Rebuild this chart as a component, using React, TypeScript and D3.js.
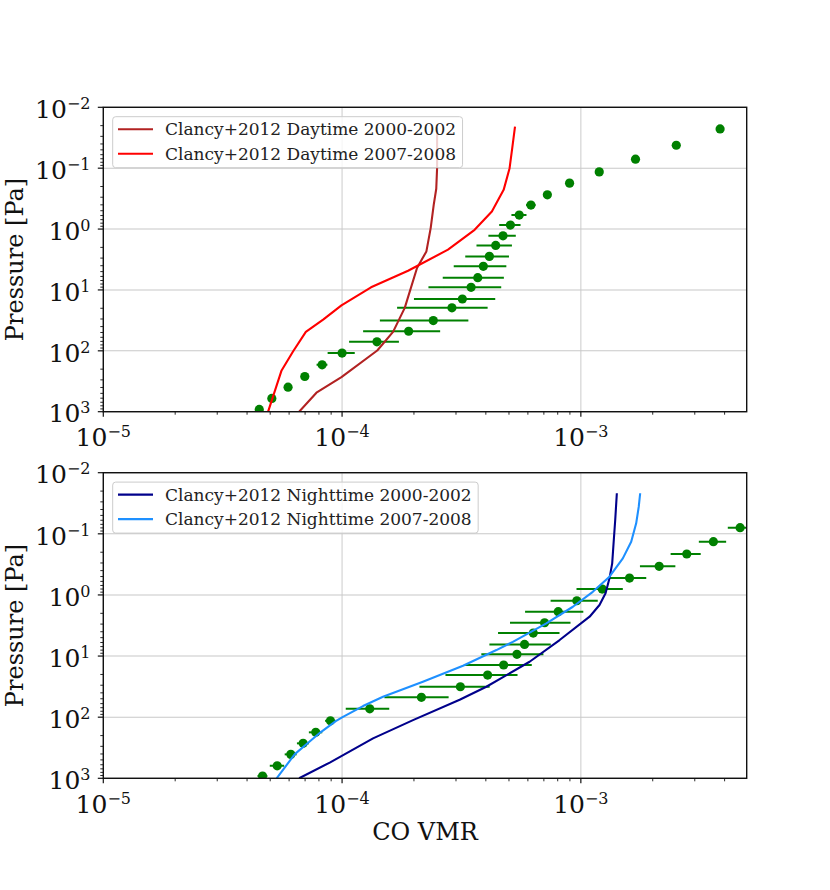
import React, { useEffect, useRef } from 'react';
import * as d3 from 'd3';

// daytime observations (green points with horizontal error bars)
const dayObsPressure = [916, 605, 395, 264, 170, 109, 71.2, 47.7, 31.9, 19.7, 14.1, 9.06, 6.29, 4.1, 2.81, 1.86, 1.29, 0.859, 0.589, 0.404, 0.274, 0.176, 0.115, 0.0712, 0.042, 0.0227];
const dayObsVmr = [4.5e-5, 5.08e-5, 5.94e-5, 6.98e-5, 8.25e-5, 1.0e-4, 1.4e-4, 1.9e-4, 2.41e-4, 2.885e-4, 3.19e-4, 3.47e-4, 3.7e-4, 3.905e-4, 4.14e-4, 4.4e-4, 4.72e-4, 5.07e-4, 5.52e-4, 6.18e-4, 7.24e-4, 8.97e-4, 1.194e-3, 1.694e-3, 2.51e-3, 3.83e-3];
const dayObsErr = [0.1e-5, 0.15e-5, 0.2e-5, 0.25e-5, 0.43e-5, 0.13e-4, 0.33e-4, 0.675e-4, 0.97e-4, 1.185e-4, 1.19e-4, 1.17e-4, 1.06e-4, 0.97e-4, 0.86e-4, 0.745e-4, 0.62e-4, 0.52e-4, 0.4e-4, 0.28e-4, 0, 0, 0, 0, 0, 0];

// Clancy+2012 daytime profiles
const clancyDay0002Pressure = [1000, 488, 271, 98.9, 48.8, 19.7, 4.36, 2.33, 0.964, 0.4, 0.218, 0.1, 0.0221];
const clancyDay0002Vmr = [6.61e-5, 7.81e-5, 9.94e-5, 1.404e-4, 1.635e-4, 1.83e-4, 2.06e-4, 2.255e-4, 2.35e-4, 2.42e-4, 2.48e-4, 2.5e-4, 2.5e-4];
const clancyDay0708Pressure = [1000, 210, 101.6, 48.8, 30.7, 17.9, 9.06, 4.83, 2.18, 1.03, 0.514, 0.227, 0.1, 0.047, 0.0208];
const clancyDay0708Vmr = [4.9e-5, 5.58e-5, 6.24e-5, 7.05e-5, 8.33e-5, 9.94e-5, 1.322e-4, 1.89e-4, 2.777e-4, 3.59e-4, 4.24e-4, 4.75e-4, 5.03e-4, 5.16e-4, 5.3e-4];

// nighttime observations
const nightObsPressure = [920, 624, 406, 268, 177, 114.6, 72.9, 47.4, 31.8, 20.5, 14.0, 9.38, 6.44, 4.2, 2.85, 1.88, 1.245, 0.801, 0.529, 0.34, 0.214, 0.1346, 0.0794];
const nightObsVmr = [4.645e-5, 5.35e-5, 6.1e-5, 6.87e-5, 7.76e-5, 8.94e-5, 1.306e-4, 2.149e-4, 3.129e-4, 4.07e-4, 4.75e-4, 5.4e-4, 5.81e-4, 6.32e-4, 7.05e-4, 8.04e-4, 9.62e-4, 1.229e-3, 1.599e-3, 2.128e-3, 2.777e-3, 3.59e-3, 4.645e-3];
const nightObsErr = [0.22e-5, 0.37e-5, 0.35e-5, 0.4e-5, 0.5e-5, 0.45e-5, 0.27e-4, 0.645e-4, 1.02e-4, 1.36e-4, 1.48e-4, 1.57e-4, 1.67e-4, 1.82e-4, 2.0e-4, 2.2e-4, 2.15e-4, 2.7e-4, 2.8e-4, 3.6e-4, 4.0e-4, 4.7e-4, 5.2e-4];

// Clancy+2012 nighttime profiles
const clancyNight0002Pressure = [1000, 553, 222, 111.6, 51.9, 31.8, 12.4, 5.47, 2.27, 1.46, 0.942, 0.535, 0.304, 0.1263, 0.0594, 0.0217];
const clancyNight0002Vmr = [6.61e-5, 8.88e-5, 1.348e-4, 1.982e-4, 3.108e-4, 4.02e-4, 6.1e-4, 8.15e-4, 1.088e-3, 1.197e-3, 1.269e-3, 1.318e-3, 1.353e-3, 1.374e-3, 1.393e-3, 1.415e-3];
const clancyNight0708Pressure = [1000, 402, 265, 175, 116, 100.7, 65.8, 46.4, 26.3, 14.4, 7.98, 5.86, 2.92, 1.56, 0.888, 0.503, 0.252, 0.1346, 0.0673, 0.036, 0.0217];
const clancyNight0708Vmr = [5.32e-5, 6.34e-5, 7.19e-5, 8.15e-5, 9.41e-5, 1.0e-4, 1.224e-4, 1.484e-4, 2.18e-4, 3.21e-4, 4.43e-4, 5.19e-4, 7.17e-4, 9.26e-4, 1.122e-3, 1.318e-3, 1.499e-3, 1.625e-3, 1.705e-3, 1.748e-3, 1.772e-3];

const xDomain = [1e-5, 4.95e-3];
const pDomain = [1e-2, 1e3];

const FONT = '"DejaVu Serif", serif';
const W = 830;
const H = 890;
const LEFT = 103.3;
const RIGHT = 746.7;

const isDecade = (v: number) => Math.abs(Math.log10(v) - Math.round(Math.log10(v))) < 1e-6;

const supText = (v: number) => {
  const e = Math.round(Math.log10(v));
  return e < 0 ? `\u2212${-e}` : `${e}`;
};

interface LineSpec {
  label: string;
  color: string;
  pressure: number[];
  vmr: number[];
}

interface PanelSpec {
  top: number;
  bottom: number;
  obsPressure: number[];
  obsVmr: number[];
  obsErr: number[];
  lines: LineSpec[];
}

const drawPanel = (svg: any, idx: number, spec: PanelSpec) => {
  const x = d3.scaleLog().domain(xDomain).range([LEFT, RIGHT]);
  const y = d3.scaleLog().domain(pDomain).range([spec.top, spec.bottom]);
  const g = svg.append('g');

  const clipId = `clip-panel-${idx}`;
  svg
    .append('defs')
    .append('clipPath')
    .attr('id', clipId)
    .append('rect')
    .attr('x', LEFT)
    .attr('y', spec.top)
    .attr('width', RIGHT - LEFT)
    .attr('height', spec.bottom - spec.top);

  const xTicks = x.ticks();
  const yTicks = y.ticks();
  const xMajor = xTicks.filter(isDecade);
  const yMajor = yTicks.filter(isDecade);

  // grid
  g.selectAll('.gx')
    .data(xMajor)
    .enter()
    .append('line')
    .attr('x1', (d: number) => x(d))
    .attr('x2', (d: number) => x(d))
    .attr('y1', spec.top)
    .attr('y2', spec.bottom)
    .style('stroke', '#d0d0d0')
    .style('stroke-width', 1.1);
  g.selectAll('.gy')
    .data(yMajor)
    .enter()
    .append('line')
    .attr('x1', LEFT)
    .attr('x2', RIGHT)
    .attr('y1', (d: number) => y(d))
    .attr('y2', (d: number) => y(d))
    .style('stroke', '#c8c8c8')
    .style('stroke-width', 1.1);

  const plot = g.append('g').attr('clip-path', `url(#${clipId})`);

  // observed points
  const obs = spec.obsPressure.map((p, i) => ({ p, v: spec.obsVmr[i], e: spec.obsErr[i] }));
  plot
    .selectAll('.err')
    .data(obs.filter((d) => d.e > 0))
    .enter()
    .append('line')
    .attr('x1', (d: any) => x(d.v - d.e))
    .attr('x2', (d: any) => x(d.v + d.e))
    .attr('y1', (d: any) => y(d.p))
    .attr('y2', (d: any) => y(d.p))
    .style('stroke', 'green')
    .style('stroke-width', 2);
  plot
    .selectAll('.pt')
    .data(obs)
    .enter()
    .append('circle')
    .attr('cx', (d: any) => x(d.v))
    .attr('cy', (d: any) => y(d.p))
    .attr('r', 4.6)
    .style('fill', 'green');

  // legend
  const lg = g.append('g').attr('transform', `translate(${LEFT + 9.4}, ${spec.top + 9.4})`);
  const texts: any[] = [];
  spec.lines.forEach((ln, i) => {
    const ly = 12.5 + i * 24.5;
    lg.append('line')
      .attr('x1', 5.3)
      .attr('x2', 40.3)
      .attr('y1', ly)
      .attr('y2', ly)
      .style('stroke', ln.color)
      .style('stroke-width', 2.1);
    texts.push(
      lg
        .append('text')
        .attr('x', 52.3)
        .attr('y', ly + 6)
        .style('font-family', FONT)
        .style('font-size', '17px')
        .style('fill', '#222')
        .text(ln.label)
    );
  });
  const maxLen = d3.max(texts, (t: any) => (t.node() as SVGTextElement).getComputedTextLength()) || 0;
  lg.insert('rect', ':first-child')
    .attr('x', 0)
    .attr('y', 0)
    .attr('width', 52.3 + maxLen + 6.5)
    .attr('height', 51)
    .attr('rx', 3)
    .style('fill', 'white')
    .style('fill-opacity', 0.8)
    .style('stroke', '#cccccc')
    .style('stroke-width', 1);

  // model profiles
  const lineGen = d3
    .line<[number, number]>()
    .x((d) => x(d[1]))
    .y((d) => y(d[0]));
  spec.lines.forEach((ln) => {
    const pts: [number, number][] = ln.pressure.map((p, i) => [p, ln.vmr[i]]);
    plot
      .append('path')
      .attr('d', lineGen(pts))
      .style('fill', 'none')
      .style('stroke', ln.color)
      .style('stroke-width', 2.1)
      .style('stroke-linejoin', 'round');
  });

  // spines
  g.append('rect')
    .attr('x', LEFT)
    .attr('y', spec.top)
    .attr('width', RIGHT - LEFT)
    .attr('height', spec.bottom - spec.top)
    .style('fill', 'none')
    .style('stroke', '#111')
    .style('stroke-width', 1.4);

  // x ticks
  g.selectAll('.tx')
    .data(xTicks)
    .enter()
    .append('line')
    .attr('x1', (d: number) => x(d))
    .attr('x2', (d: number) => x(d))
    .attr('y1', spec.bottom)
    .attr('y2', (d: number) => spec.bottom + (isDecade(d) ? 5 : 3))
    .style('stroke', '#111')
    .style('stroke-width', (d: number) => (isDecade(d) ? 1.2 : 0.9));
  // y ticks
  g.selectAll('.ty')
    .data(yTicks)
    .enter()
    .append('line')
    .attr('x1', LEFT)
    .attr('x2', (d: number) => LEFT - (isDecade(d) ? 5.5 : 3))
    .attr('y1', (d: number) => y(d))
    .attr('y2', (d: number) => y(d))
    .style('stroke', '#111')
    .style('stroke-width', (d: number) => (isDecade(d) ? 1.2 : 0.9));

  // tick labels
  xMajor.forEach((v) => {
    const t = g
      .append('text')
      .attr('x', x(v))
      .attr('y', spec.bottom + 34.3)
      .style('font-family', FONT)
      .style('text-anchor', 'middle')
      .style('fill', '#111');
    t.append('tspan').style('font-size', '25px').text('10');
    t.append('tspan').style('font-size', '16px').attr('dy', -9).text(supText(v));
  });
  yMajor.forEach((v) => {
    const t = g
      .append('text')
      .attr('x', 90.5)
      .attr('y', y(v) + 10.7)
      .style('font-family', FONT)
      .style('text-anchor', 'end')
      .style('fill', '#111');
    t.append('tspan').style('font-size', '25px').text('10');
    t.append('tspan').style('font-size', '16px').attr('dy', -9).text(supText(v));
  });

  g.append('text')
    .attr('transform', `translate(22.5, ${(spec.top + spec.bottom) / 2}) rotate(-90)`)
    .style('font-family', FONT)
    .style('font-size', '24px')
    .style('text-anchor', 'middle')
    .style('fill', '#111')
    .text('Pressure [Pa]');
};

const App: React.FC = () => {
  const ref = useRef<SVGSVGElement>(null);

  useEffect(() => {
    if (!ref.current) return;
    const svg = d3.select(ref.current);
    svg.selectAll('*').remove();

    drawPanel(svg, 0, {
      top: 107.3,
      bottom: 411.7,
      obsPressure: dayObsPressure,
      obsVmr: dayObsVmr,
      obsErr: dayObsErr,
      lines: [
        { label: 'Clancy+2012 Daytime 2000-2002', color: '#b22222', pressure: clancyDay0002Pressure, vmr: clancyDay0002Vmr },
        { label: 'Clancy+2012 Daytime 2007-2008', color: '#ff0000', pressure: clancyDay0708Pressure, vmr: clancyDay0708Vmr },
      ],
    });
    drawPanel(svg, 1, {
      top: 472.7,
      bottom: 778.3,
      obsPressure: nightObsPressure,
      obsVmr: nightObsVmr,
      obsErr: nightObsErr,
      lines: [
        { label: 'Clancy+2012 Nighttime 2000-2002', color: '#00008b', pressure: clancyNight0002Pressure, vmr: clancyNight0002Vmr },
        { label: 'Clancy+2012 Nighttime 2007-2008', color: '#1e90ff', pressure: clancyNight0708Pressure, vmr: clancyNight0708Vmr },
      ],
    });

    svg
      .append('text')
      .attr('x', (LEFT + RIGHT) / 2)
      .attr('y', 840)
      .style('font-family', FONT)
      .style('font-size', '24px')
      .style('text-anchor', 'middle')
      .style('fill', '#111')
      .text('CO VMR');
  }, []);

  return (
    <svg
      ref={ref}
      width={W}
      height={H}
      style={{ position: 'absolute', left: 0, top: 0, background: 'white' }}
    ></svg>
  );
};

export default App;
